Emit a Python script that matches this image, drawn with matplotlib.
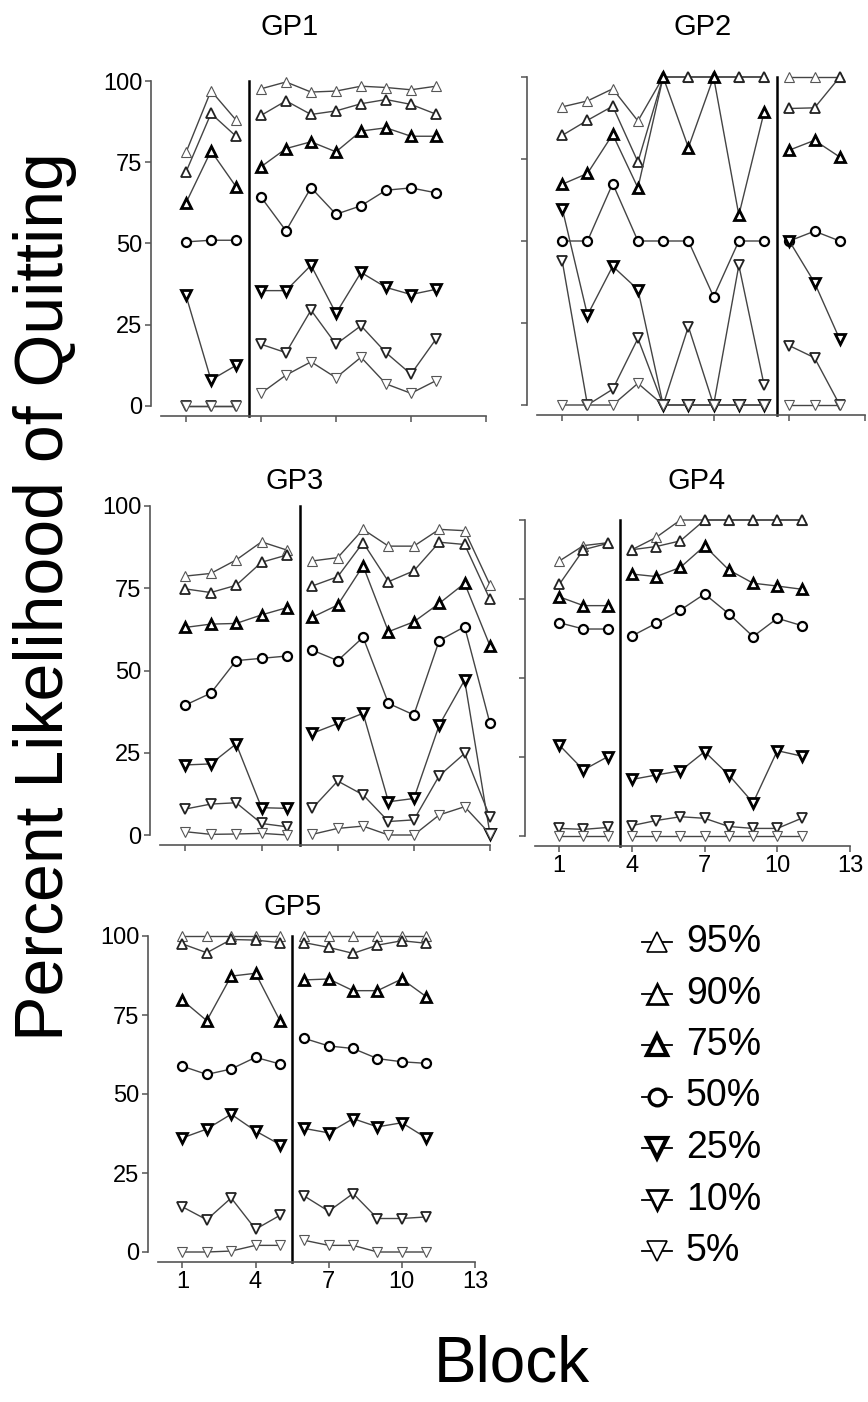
import matplotlib.pyplot as plt

plt.rcParams['font.family'] = ['Liberation Sans', 'DejaVu Sans']

# quitting likelihood levels (rows of every array below, top to bottom)
levels = ['95%', '90%', '75%', '50%', '25%', '10%', '5%']
x_ticks = [1, 4, 7, 10, 13]
y_ticks = [0, 25, 50, 75, 100]

# GP1
gp1_blocks_a = [1, 2, 3]
gp1_blocks_b = [4, 5, 6, 7, 8, 9, 10, 11]
gp1_a = [[78, 97, 88],
         [72, 90, 83],
         [62.5, 78.5, 67.5],
         [50.5, 51, 51],
         [34, 8, 12.5],
         [0, 0, 0],
         [0, 0, 0]]
gp1_b = [[97.6, 99.7, 96.6, 96.9, 98.4, 98.0, 97.3, 98.4],
         [89.4, 93.9, 89.7, 90.8, 93.0, 94.3, 92.8, 89.8],
         [73.6, 79.2, 81.3, 78.2, 84.6, 85.6, 83.0, 83.0],
         [64.3, 53.9, 67.2, 59.0, 61.6, 66.4, 67.1, 65.6],
         [35.5, 35.5, 43.3, 28.5, 41.1, 36.5, 34.3, 35.9],
         [19.0, 16.4, 29.5, 19.0, 24.7, 16.4, 9.8, 20.6],
         [3.9, 9.5, 13.6, 8.7, 15.0, 6.8, 3.9, 7.8]]

# GP2
gp2_blocks_a = [1, 2, 3, 4, 5, 6, 7, 8, 9]
gp2_blocks_b = [10, 11, 12]
gp2_a = [[90.9, 92.7, 96.4, 86.6, 100, 100, 100, 100, 100],
         [82.2, 86.8, 91.1, 74.1, 100, 100, 100, 100, 100],
         [67.3, 70.6, 82.5, 66.2, 100, 78.5, 100, 57.9, 89.3],
         [50, 50, 67.5, 50, 50, 50, 33, 50, 50],
         [59.9, 27.4, 42.3, 35.2, 0, 0, 0, 0, 0],
         [43.9, 0, 4.8, 20.3, 0, 23.9, 0, 42.6, 6.1],
         [0, 0, 0, 6.6, 0, 0, 0, 0, 0]]
gp2_b = [[100, 100, 100],
         [90.4, 90.6, 100],
         [77.7, 80.7, 75.6],
         [50, 53, 50],
         [50, 37.3, 20],
         [18.1, 14.4, 0],
         [0, 0, 0]]

# GP3
gp3_blocks_a = [1, 2, 3, 4, 5]
gp3_blocks_b = [6, 7, 8, 9, 10, 11, 12, 13]
gp3_a = [[78.7, 79.5, 83.6, 89.1, 86.6],
         [74.8, 73.7, 75.9, 82.9, 85.1],
         [63.1, 64.1, 64.3, 66.9, 69.1],
         [39.5, 43.1, 53.0, 53.7, 54.4],
         [21.3, 21.6, 27.7, 8.3, 8.1],
         [7.9, 9.4, 9.8, 3.5, 2.5],
         [1.0, 0.2, 0.3, 0.5, 0]]
gp3_b = [[83.3, 84.3, 92.9, 87.8, 87.8, 92.9, 92.5, 76.0],
         [75.7, 78.5, 88.9, 77.0, 80.3, 89.0, 88.3, 71.6],
         [66.2, 69.9, 81.8, 61.8, 64.8, 70.4, 76.5, 57.5],
         [56.2, 53.0, 60.1, 40.0, 36.5, 59.1, 63.3, 33.9],
         [30.9, 33.9, 37.0, 10.1, 11.1, 33.4, 47.1, 0.3],
         [8.1, 16.4, 12.2, 4.1, 4.6, 18.0, 24.8, 5.4],
         [0.2, 2.0, 2.7, 0, 0, 6.1, 8.6, 0.3]]

# GP4
gp4_blocks_a = [1, 2, 3]
gp4_blocks_b = [4, 5, 6, 7, 8, 9, 10, 11]
gp4_a = [[87.0, 91.9, 92.8],
         [79.6, 90.6, 92.6],
         [75.7, 72.9, 72.9],
         [67.5, 65.5, 65.5],
         [28.8, 20.9, 25.1],
         [2.4, 2.1, 2.7],
         [0, 0, 0]]
gp4_b = [[90.6, 94.5, 100, 100, 100, 100, 100, 100],
         [90.6, 91.6, 93.4, 100, 100, 100, 100, 100],
         [82.9, 82.1, 85.0, 91.8, 84.2, 80.0, 79.1, 78.1],
         [63.3, 67.3, 71.5, 76.6, 70.3, 63.1, 68.9, 66.6],
         [17.9, 19.3, 20.6, 26.7, 19.3, 10.5, 27.0, 25.3],
         [3.3, 4.9, 6.1, 5.6, 3.0, 2.4, 2.4, 5.6],
         [0, 0, 0, 0, 0, 0, 0, 0]]

# GP5
gp5_blocks_a = [1, 2, 3, 4, 5]
gp5_blocks_b = [6, 7, 8, 9, 10, 11]
gp5_a = [[100, 100, 100, 100, 100],
         [97.5, 94.7, 98.9, 98.7, 97.9],
         [79.7, 73.2, 87.3, 88.2, 73.2],
         [58.8, 56.2, 57.9, 61.6, 59.5],
         [36.1, 38.9, 43.6, 38.3, 34.0],
         [14.3, 10.2, 17.1, 7.2, 11.6],
         [0, 0, 0.3, 2.1, 2.1]]
gp5_b = [[100, 100, 100, 100, 100, 100],
         [97.9, 96.4, 94.5, 97.1, 98.5, 97.7],
         [86.1, 86.4, 82.7, 82.7, 86.4, 80.8],
         [67.6, 65.2, 64.4, 61.2, 60.2, 59.7],
         [39.1, 37.7, 42.2, 39.6, 40.9, 36.1],
         [17.7, 12.9, 18.5, 10.6, 10.6, 11.1],
         [3.7, 2.1, 2.1, 0, 0, 0]]

markers = ['^', '^', '^', 'o', 'v', 'v', 'v']
edge_w = [0.8, 1.3, 2.0, 1.6, 2.0, 1.3, 0.8]
edge_c = ['#555555', '#222222', 'black', 'black', 'black', '#222222', '#555555']
msizes = [7.5, 7.5, 7.5, 6.5, 7.5, 7.5, 7.5]

W, H = 868, 1402
fig = plt.figure(figsize=(W / 100, H / 100), dpi=100)


def px_axes(left, right, top, bottom):
    return fig.add_axes([left / W, 1 - bottom / H, (right - left) / W, (bottom - top) / H])


panels = [
    ('GP1', (161, 486, 81, 406), gp1_blocks_a, gp1_a, gp1_blocks_b, gp1_b, True, False, (290, 27)),
    ('GP2', (537, 865, 77, 405), gp2_blocks_a, gp2_a, gp2_blocks_b, gp2_b, False, False, (703, 27)),
    ('GP3', (160, 490, 506, 835), gp3_blocks_a, gp3_a, gp3_blocks_b, gp3_b, True, False, (295, 481)),
    ('GP4', (535, 850, 520, 836), gp4_blocks_a, gp4_a, gp4_blocks_b, gp4_b, False, True, (697, 481)),
    ('GP5', (158, 475, 936, 1252), gp5_blocks_a, gp5_a, gp5_blocks_b, gp5_b, True, True, (293, 907)),
]

for name, box, bx_a, ya, bx_b, yb, ylab, xlab, tpos in panels:
    ax = px_axes(*box)
    hpx = box[3] - box[2]
    for xs, rows in ((bx_a, ya), (bx_b, yb)):
        for i, vals in enumerate(rows):
            ax.plot(xs, vals, color='#444444', lw=1.0, marker=markers[i],
                    ms=msizes[i], mfc='white', mec=edge_c[i], mew=edge_w[i],
                    clip_on=False, zorder=3)
    split = (bx_a[-1] + bx_b[0]) / 2
    ax.axvline(split, ymin=-10 / hpx, ymax=1, color='black', lw=1.8, clip_on=False)
    ax.set_xlim(0, 13)
    ax.set_ylim(0, 100)
    for s in ('top', 'right'):
        ax.spines[s].set_visible(False)
    for s in ('left', 'bottom'):
        ax.spines[s].set_position(('outward', 7.5))
        ax.spines[s].set_color('#555555')
        ax.spines[s].set_linewidth(1.2)
    ax.set_xticks(x_ticks)
    ax.set_yticks(y_ticks)
    ax.tick_params(length=4, width=1.1, color='#555555', labelsize=17, pad=2)
    if not ylab:
        ax.set_yticklabels([])
    if not xlab:
        ax.set_xticklabels([])
    ax.patch.set_alpha(0)
    fig.text(tpos[0] / W, 1 - tpos[1] / H, name, ha='center', va='center', fontsize=21)

# legend
lg = fig.add_axes([0, 0, 1, 1])
lg.set_xlim(0, W)
lg.set_ylim(H, 0)
lg.axis('off')
for i, lab in enumerate(levels):
    yy = 942 + i * 51.5
    lg.plot([642, 672], [yy, yy], color='black', lw=1.3)
    lg.plot([657], [yy], marker=markers[i], ms=14 if markers[i] != 'o' else 12,
            mfc='white', mec='black', mew=edge_w[i] * 1.5)
    lg.text(686, yy, lab, ha='left', va='center', fontsize=27)

fig.text(45 / W, 1 - 597 / H, 'Percent Likelihood of Quitting', rotation=90,
         ha='center', va='center', fontsize=49)
fig.text(512 / W, 1 - 1365 / H, 'Block', ha='center', va='center', fontsize=46)

fig.savefig('out.png', dpi=100)
